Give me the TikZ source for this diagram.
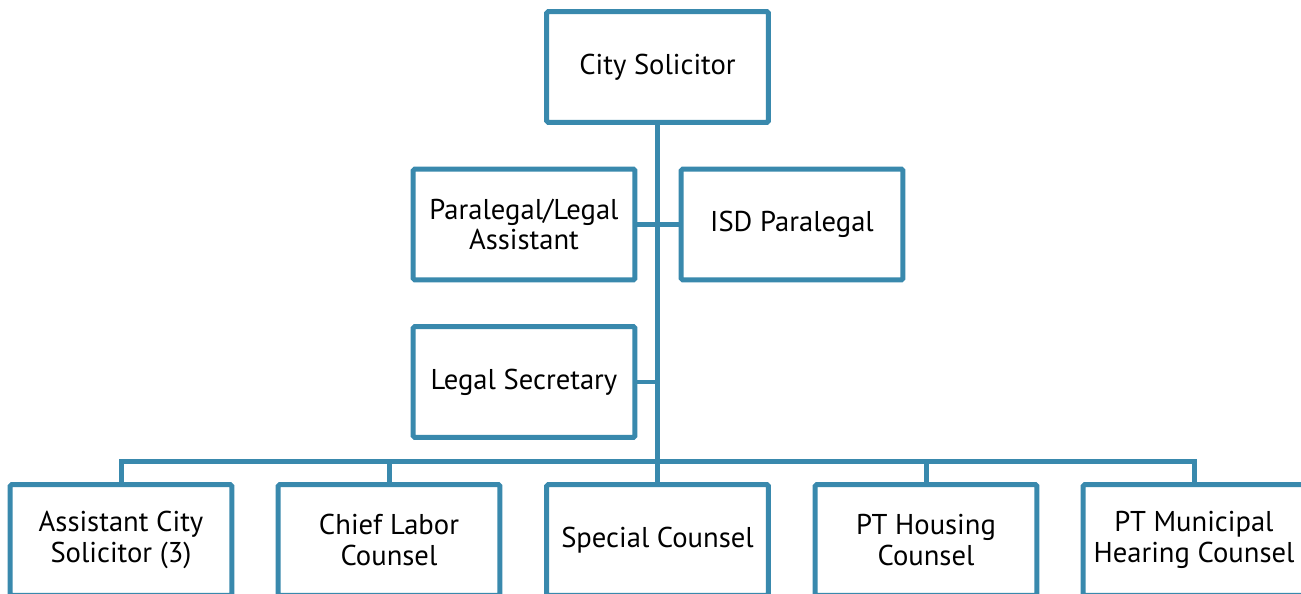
\documentclass[tikz,border=0pt]{standalone}
\usepackage{fontspec}
\setmainfont{PT Sans}
\usepackage{tikz}
\definecolor{orgblue}{RGB}{57,137,173}

\begin{document}
\begin{tikzpicture}[x=0.02cm,y=-0.02cm,
    post/.style={draw=orgblue,line width=0.1cm,fill=white,rounded corners=1pt,
        minimum width=4.44cm,minimum height=2.22cm,align=center,inner sep=0pt,
        font=\fontsize{16.3}{17.3}\selectfont},
    link/.style={draw=orgblue,line width=0.1cm}]
    \useasboundingbox (0,0) rectangle (1301,594);
    \clip (0,0) rectangle (1301,594);

    \node[post] (cs) at (657.5,67) {City Solicitor};
    \node[post] (para) at (524,224.5) {Paralegal/Legal\\Assistant};
    \node[post] (isd) at (792,224.5) {ISD Paralegal};
    \node[post] (lsec) at (524,382) {Legal Secretary};

    \node[post] (asst) at (121,540) {Assistant City\\Solicitor (3)};
    \node[post] (labor) at (389,540) {Chief Labor\\Counsel};
    \node[post] (spec) at (657.5,540) {Special Counsel};
    \node[post] (hous) at (926,540) {PT Housing\\Counsel};
    \node[post] (muni) at (1194,540) {PT Municipal\\Hearing Counsel};

    \coordinate (bus) at (657.5,461);

    \draw[link] (cs.south) -- (spec.north);
    \draw[link] (para.east) -- (para.east -| cs.south);
    \draw[link] (isd.west) -- (isd.west -| cs.south);
    \draw[link] (lsec.east) -- (lsec.east -| cs.south);
    \draw[link] (asst.north) |- (bus) -| (muni.north);
    \draw[link] (labor.north) -- (labor.north |- bus);
    \draw[link] (hous.north) -- (hous.north |- bus);
\end{tikzpicture}
\end{document}
